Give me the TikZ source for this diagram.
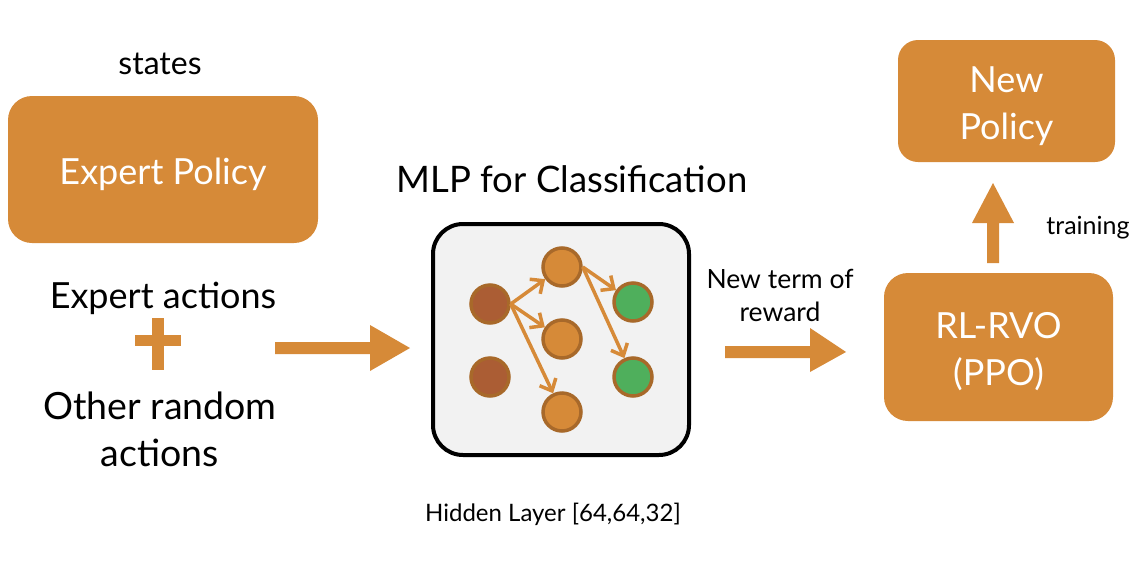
\documentclass[tikz,border=0pt]{standalone}
\usepackage{fontspec}
\setmainfont{Lato}
\usetikzlibrary{arrows.meta}
\definecolor{org}{RGB}{214,138,56}
\definecolor{orgdark}{RGB}{168,105,42}
\definecolor{brn}{RGB}{171,93,52}
\definecolor{grn}{RGB}{79,175,92}
\definecolor{lgray}{RGB}{242,242,242}
\tikzset{
  obox/.style={fill=org, draw=none, rounded corners=24pt, inner sep=0pt},
  boxtxt/.style={text=white, align=center, font=\fontsize{36}{47}\selectfont, inner sep=0pt},
  bigtxt/.style={font=\fontsize{36}{46}\selectfont, text=black, inner sep=0pt, align=center},
  smalltxt/.style={font=\fontsize{25}{32}\selectfont, text=black, inner sep=0pt, align=center},
  neuron/.style={circle, minimum size=38pt, inner sep=0pt, draw=orgdark, line width=3.5pt},
  netarrow/.style={draw=org, line width=3.5pt, -{Straight Barb[length=10pt,width=18pt,line width=3.5pt]}},
  blockarrow/.style={fill=org, draw=none},
}
\begin{document}
\begin{tikzpicture}[x=1pt,y=-1pt]
\useasboundingbox (0,0) rectangle (1142,568);
% left column
\node[bigtxt, font=\fontsize{32}{40}\selectfont] (states) at (160,64) {states};
\node[obox, minimum width=310pt, minimum height=147pt] (expert) at (163,169.5) {};
\node[boxtxt] (expertt) at ([yshift=-5pt]expert.center) {Expert Policy};
\node[bigtxt] (eact) at (163,298) {Expert actions};
\fill[org] (135,335) rectangle (181,346);
\fill[org] (152,318) rectangle (164,370);
\node[bigtxt, font=\fontsize{37.5}{47}\selectfont] (other) at (160,429) {Other random\\actions};
% arrow 1
\fill[blockarrow] (275,342) -- (370,342) -- (370,325) -- (410,348) -- (370,371) -- (370,354) -- (275,354) -- cycle;
% MLP
\node[bigtxt, font=\fontsize{36.5}{44}\selectfont] (mlptitle) at (572,179) {MLP for Classification};
\draw[fill=lgray, draw=black, line width=4pt, rounded corners=30pt] (433,224) rectangle (689,455);
\node[neuron, fill=brn] (i1) at (490,304) {};
\node[neuron, fill=brn] (i2) at (490,377) {};
\node[neuron, fill=org] (h1) at (562,267) {};
\node[neuron, fill=org] (h2) at (562,339) {};
\node[neuron, fill=org] (h3) at (562,412) {};
\node[neuron, fill=grn] (o1) at (633,302) {};
\node[neuron, fill=grn] (o2) at (633,377) {};
\draw[netarrow] (i1.east) -- (h1);
\draw[netarrow] (i1.east) -- (h2);
\draw[netarrow] (i1.east) -- (h3);
\draw[netarrow] (h1.east) -- (o1);
\draw[netarrow] (h1.east) -- (o2);
\node[smalltxt, font=\fontsize{24}{28}\selectfont] (hidden) at (553,514) {Hidden Layer [64,64,32]};
% reward
\node[smalltxt, font=\fontsize{26.5}{33}\selectfont] (reward) at (780,295) {New term of\\reward};
\fill[blockarrow] (725,346) -- (810,346) -- (810,328) -- (846,352) -- (810,372) -- (810,358) -- (725,358) -- cycle;
% RL-RVO
\node[obox, minimum width=229pt, minimum height=148pt] (rl) at (998.5,347) {};
\node[boxtxt] (rlt) at ([yshift=-5pt]rl.center) {RL-RVO\\(PPO)};
\fill[blockarrow] (987,263) -- (987,223) -- (972,223) -- (993,183) -- (1014,223) -- (999,223) -- (999,263) -- cycle;
\node[smalltxt] (training) at (1088,228) {training};
\node[obox, minimum width=217pt, minimum height=122pt, rounded corners=20pt] (newp) at (1006.5,101) {};
\node[boxtxt] (newpt) at ([yshift=-5pt]newp.center) {New\\Policy};
\end{tikzpicture}
\end{document}
